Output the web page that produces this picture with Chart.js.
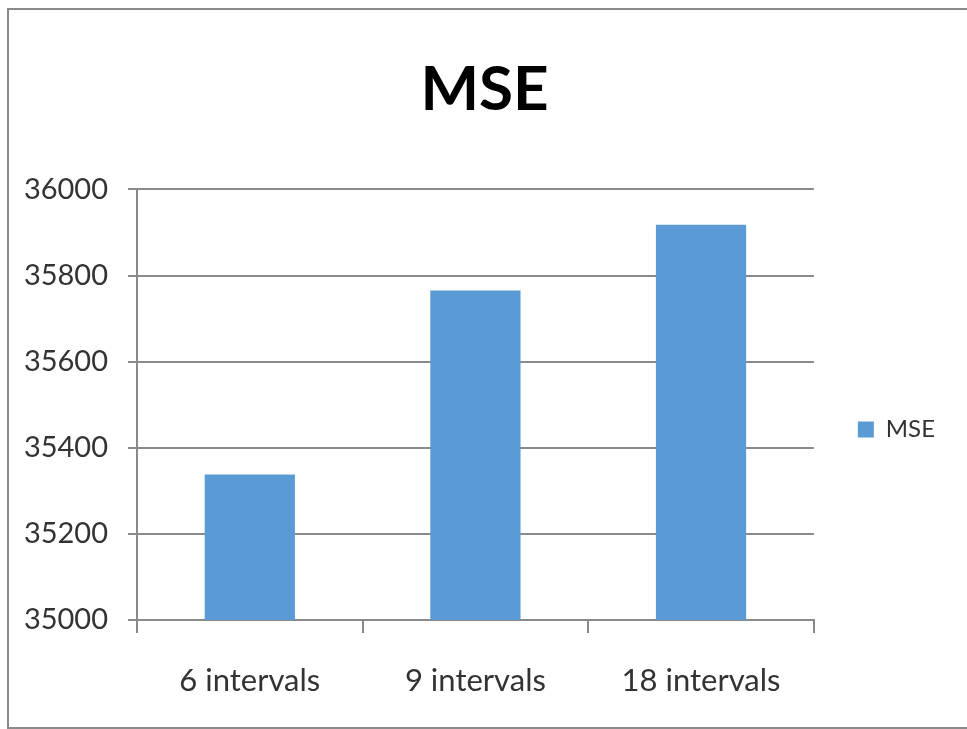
<!DOCTYPE html>
<html>
<head>
<meta charset="utf-8">
<script src="https://cdn.jsdelivr.net/npm/chart.js@4.4.0/dist/chart.umd.min.js"></script>
<style>
  html, body { margin: 0; padding: 0; background: #fff; }
  #wrap { position: relative; width: 967px; height: 729px; overflow: hidden; }
  #frame { position: absolute; left: 7px; top: 8px; width: 980px; height: 717px;
           border-left: 2px solid #8a8a8a; border-top: 2px solid #8a8a8a; border-bottom: 2px solid #8a8a8a; }
  canvas { position: absolute; left: 0; top: 0; }
</style>
</head>
<body>
<div id="wrap">
  <div id="frame"></div>
  <canvas id="mse" width="967" height="729"></canvas>
</div>
<script>
const categories = ['6 intervals', '9 intervals', '18 intervals'];
const mseValues = [35338, 35765, 35918];
const yMin = 35000, yMax = 36000, yStep = 200;

const lineGray = '#8a8a8a';
const textColor = '#333333';

new Chart(document.getElementById('mse'), {
  type: 'bar',
  data: {
    labels: categories,
    datasets: [{
      label: 'MSE',
      data: mseValues,
      backgroundColor: '#5b9bd5',
      borderWidth: 0,
      barPercentage: 0.4,
      categoryPercentage: 1.0
    }]
  },
  options: {
    responsive: false,
    animation: false,
    layout: { padding: { left: 24, right: 22, top: 0, bottom: 0 } },
    plugins: {
      title: {
        display: true,
        text: 'MSE',
        color: '#000',
        font: { family: 'Lato', size: 62, weight: 'bold' },
        padding: { top: 53, bottom: 62 }
      },
      legend: {
        position: 'right',
        // empty title only pushes the legend item down a bit
        title: { display: true, text: ' ', font: { size: 10 }, padding: 59 },
        labels: {
          color: textColor,
          boxWidth: 16,
          boxHeight: 16,
          padding: 44,
          font: { family: 'Lato', size: 24 }
        }
      },
      tooltip: { enabled: false }
    },
    scales: {
      x: {
        afterFit: (axis) => { axis.height = 109; },
        grid: {
          offset: true,
          drawOnChartArea: false,
          color: lineGray,
          lineWidth: 2,
          tickLength: 13
        },
        border: { color: lineGray, width: 2 },
        ticks: {
          color: textColor,
          padding: 29,
          font: { family: 'Lato', size: 31 }
        }
      },
      y: {
        min: yMin,
        max: yMax,
        afterFit: (axis) => { axis.width = 113; },
        grid: { color: lineGray, lineWidth: 2, tickLength: 9 },
        border: { color: lineGray, width: 2 },
        ticks: {
          stepSize: yStep,
          color: textColor,
          padding: 20,
          font: { family: 'Lato', size: 29 },
          callback: (v) => String(v)
        }
      }
    }
  }
});
</script>
</body>
</html>
